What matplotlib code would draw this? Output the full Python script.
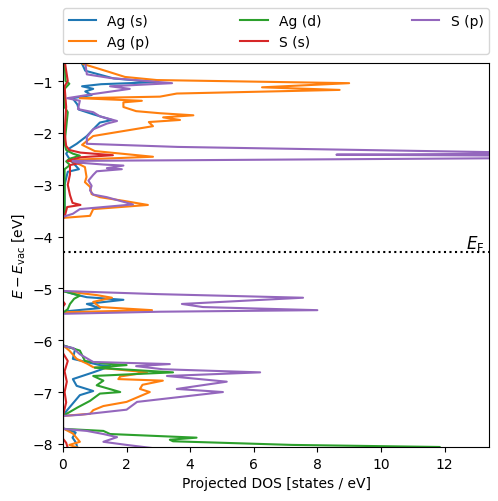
import matplotlib
matplotlib.use('Agg')
import matplotlib.pyplot as plt

# energies [eV] and projected DOS
ag_s_E = [-0.6, -0.8, -0.95, -1.02, -1.06, -1.10, -1.15, -1.20, -1.27, -1.33, -1.45, -1.55, -1.64, -1.70,
          -1.75, -1.80, -1.93, -2.06, -2.21, -2.29, -2.40, -2.50, -2.60, -2.70, -2.75, -3.0, -3.6, -3.65,
          -5.05, -5.12, -5.17, -5.22, -5.30, -5.38, -5.44, -5.48,
          -6.10, -6.17, -6.36, -6.48, -6.50, -6.62, -6.75, -6.88, -6.98, -7.06, -7.35, -7.46,
          -7.70, -7.78, -7.88, -7.95, -8.02, -8.08]
ag_s_dos = [0.55, 0.7, 1.6, 2.95, 1.2, 0.6, 0.95, 0.7, 0.9, 0.3, 0.45, 0.5, 0.95, 1.27,
            1.54, 1.16, 0.95, 0.75, 0.43, 0.22, 0.1, 0.2, 0.35, 0.5, 0.15, 0.05, 0.05, 0,
            0, 0.4, 0.75, 1.9, 0.75, 1.16, 0.13, 0,
            0, 0.38, 0.31, 1.16, 1.5, 0.95, 0.31, 0.43, 0.95, 0.53, 0.13, 0,
            0, 0.4, 0.3, 0.38, 0.43, 0.45]

ag_p_E = [-0.6, -0.67, -0.71, -0.81, -0.92, -0.98, -1.04, -1.12, -1.17, -1.24, -1.30, -1.33, -1.38, -1.41,
          -1.50, -1.58, -1.62, -1.66, -1.70, -1.75, -1.79, -1.87, -2.06, -2.23, -2.35, -2.46, -2.52, -2.60,
          -2.66, -2.85, -2.95, -3.04, -3.18, -3.24, -3.31, -3.39, -3.47, -3.60, -3.64,
          -5.05, -5.13, -5.18, -5.26, -5.36, -5.42, -5.46,
          -6.10, -6.20, -6.36, -6.45, -6.52, -6.62, -6.70, -6.75, -6.78, -6.86, -6.94, -7.0, -7.19, -7.27,
          -7.35, -7.42, -7.46,
          -7.70, -7.80, -7.90, -7.96, -8.02, -8.08]
ag_p_dos = [0.58, 0.63, 0.85, 1.38, 1.95, 2.95, 9.0, 6.26, 8.7, 3.58, 3.05, 0.53, 2.48, 1.9,
            1.9, 2.3, 3.05, 4.1, 3.15, 3.68, 2.7, 2.83, 0.95, 0.6, 1.0, 2.83, 0.22, 0.5,
            0.69, 0.74, 0.69, 0.85, 0.9, 1.16, 1.9, 2.67, 0.95, 0.85, 0.0,
            0, 1.07, 1.54, 0.95, 1.16, 2.8, 0,
            0, 0.2, 0.43, 0.75, 0.95, 2.64, 1.8, 1.74, 3.14, 2.5, 2.42, 2.73, 2.0, 1.27,
            0.95, 0.85, 0,
            0, 0.31, 0.45, 0.53, 0.2, 0.5]

ag_d_E = [-0.6, -1.0, -1.05, -1.15, -1.5, -1.6, -1.9, -2.2, -2.33, -2.40, -2.44, -2.50, -2.55, -2.62,
          -2.70, -3.5, -3.65,
          -5.05, -5.10, -5.14, -5.20, -5.30, -5.40, -5.47,
          -6.10, -6.20, -6.40, -6.45, -6.48, -6.53, -6.62, -6.69, -6.78, -6.87, -7.0, -7.03, -7.17, -7.30, -7.46,
          -7.71, -7.75, -7.81, -7.88, -7.92, -7.95, -8.02, -8.06, -8.10]
ag_d_dos = [0.05, 0.08, 0.2, 0.05, 0.05, 0.15, 0.1, 0.05, 0.1, 0.31, 0.53, 0.2, 0.1, 0.22,
            0.05, 0.05, 0,
            0, 0.3, 0.53, 0.35, 0.22, 0.15, 0,
            0, 0.53, 0.69, 1.3, 2.0, 1.0, 3.46, 0.95, 1.27, 1.06, 1.8, 1.16, 0.85, 0.45, 0,
            0, 1.27, 1.48, 4.2, 3.36, 3.46, 7.2, 11.85, 11.9]

s_s_E = [-0.6, -1.0, -1.1, -1.5, -2.0, -2.25, -2.33, -2.38, -2.43, -2.47, -2.54, -2.57, -2.62, -2.8,
         -3.0, -3.2, -3.35, -3.39, -3.43, -3.6, -3.65,
         -5.25, -5.30, -5.35,
         -6.25, -6.40, -6.60, -6.80, -7.0, -7.2, -7.45,
         -7.90, -7.98, -8.08]
s_s_dos = [0.05, 0.15, 0.05, 0.1, 0.05, 0.1, 0.2, 0.55, 1.57, 0.55, 0.15, 0.63, 0.22, 0.22,
           0.15, 0.22, 0.3, 0.55, 0.13, 0.06, 0,
           0, 0.06, 0,
           0, 0.15, 0.05, 0.12, 0.05, 0.1, 0,
           0, 0.1, 0.15]

s_p_E = [-0.6, -0.87, -0.94, -1.04, -1.10, -1.15, -1.25, -1.33, -1.38, -1.54, -1.60, -1.68, -1.77, -1.82,
         -1.93, -2.08, -2.21, -2.27, -2.37, -2.40, -2.42, -2.44, -2.49, -2.54, -2.57, -2.61, -2.63, -2.68,
         -2.70, -2.74, -2.81, -2.92, -3.02, -3.11, -3.19, -3.24, -3.38, -3.47, -3.56, -3.62,
         -5.05, -5.11, -5.18, -5.30, -5.36, -5.42, -5.45, -5.49,
         -6.11, -6.15, -6.27, -6.42, -6.46, -6.50, -6.56, -6.62, -6.69, -6.80, -6.94, -7.0, -7.19, -7.34,
         -7.44, -7.46,
         -7.71, -7.75, -7.81, -7.87, -7.96, -8.02, -8.08]
s_p_dos = [0.69, 0.75, 1.48, 3.43, 1.48, 2.1, 0.95, 0.13, 0.53, 0.47, 0.95, 1.16, 1.7, 1.38,
           0.95, 0.75, 0.75, 3.6, 13.4, 14.5, 8.6, 14.5, 13.4, 0.3, 0.43, 1.27, 1.9, 1.38,
           1.85, 1.06, 0.95, 0.8, 0.9, 0.85, 0.95, 1.38, 2.2, 0.53, 0.31, 0,
           0, 2.95, 7.55, 3.74, 4.4, 8.0, 3.05, 0,
           0, 0.31, 0.53, 0.95, 3.36, 2.3, 3.14, 6.2, 3.27, 5.15, 3.58, 5.03, 2.33, 2.0,
           0.53, 0,
           0, 0.75, 1.27, 1.7, 1.27, 2.0, 2.8]

fermi = -4.3

fig = plt.figure(figsize=(4.98, 5.02), dpi=100)
ax = fig.add_axes([0.1265, 0.1076, 0.8555, 0.765])

ax.plot(ag_s_dos, ag_s_E, label='Ag (s)')
ax.plot(ag_p_dos, ag_p_E, label='Ag (p)')
ax.plot(ag_d_dos, ag_d_E, label='Ag (d)')
ax.plot(s_s_dos, s_s_E, label='S (s)')
ax.plot(s_p_dos, s_p_E, label='S (p)')

ax.axhline(fermi, color='k', ls=':')
ax.text(13.25, fermi - 0.02, r'$E_\mathrm{F}$', ha='right', va='bottom', fontsize=12)

ax.set_xlim(0, 13.4)
ax.set_ylim(-8.06, -0.65)
ax.set_xlabel('Projected DOS [states / eV]')
ax.set_ylabel(r'$E - E_\mathrm{vac}$ [eV]')
ax.legend(loc='lower left', bbox_to_anchor=(0, 1.023, 1, 0.2), mode='expand',
          ncol=3, borderaxespad=0)

fig.savefig('out.png', dpi=100)
